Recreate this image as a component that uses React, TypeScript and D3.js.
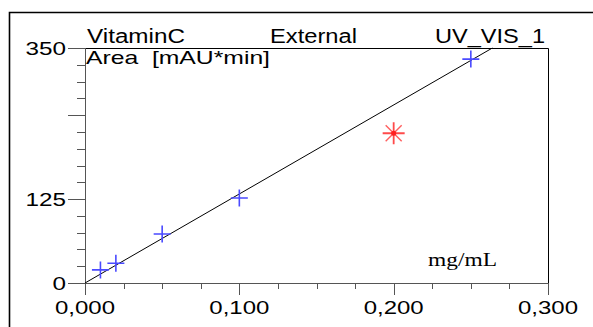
import React, { useEffect, useRef } from 'react';
import * as d3 from 'd3';

// calibration points (mg/mL vs area)
const conc = [0.01, 0.02, 0.05, 0.1, 0.25];
const area = [19.5, 29.5, 73, 126.5, 333.5];
// disabled / outlier point
const outlierConc = [0.2];
const outlierArea = [223];
// fitted line through origin
const slope = 1326;

const xTickLabels = ['0,000', '0,100', '0,200', '0,300'];
const xLabelValues = [0, 0.1, 0.2, 0.3];
const yLabelValues = [0, 125, 350];
const yLabelText = ['0', '125', '350'];
const yMajor = [0, 125, 250, 350];

const W = 593;
const H = 327;

export default function App() {
  const ref = useRef<SVGSVGElement>(null);

  useEffect(() => {
    const svg = d3.select(ref.current);
    svg.selectAll('*').remove();

    const left = 85, right = 548, top = 48, bottom = 283;
    const x = d3.scaleLinear().domain([0, 0.3]).range([left, right]);
    const y = d3.scaleLinear().domain([0, 350]).range([bottom, top]);

    svg.append('rect').attr('width', W).attr('height', H).attr('fill', '#fff');

    // outer frame
    svg.append('path')
      .attr('d', `M9.5,${H} V12.5 H${W}`)
      .attr('fill', 'none').attr('stroke', '#000').attr('stroke-width', 1.6);

    // plot frame top / right
    svg.append('path')
      .attr('d', `M${left},${top + 0.5} H${right + 0.5} V${bottom}`)
      .attr('fill', 'none').attr('stroke', '#000').attr('stroke-width', 1);

    const axisCol = '#555';
    const g = svg.append('g');

    // y axis
    g.append('line').attr('x1', left + 0.5).attr('x2', left + 0.5)
      .attr('y1', top).attr('y2', bottom + 12).attr('stroke', axisCol);
    const yMinor = d3.range(0, 351, 25);
    g.selectAll('.ytick').data(yMinor).enter().append('line')
      .attr('x1', d => (yMajor.includes(d) ? left - 17 : left - 8))
      .attr('x2', left)
      .attr('y1', d => Math.round(y(d)) + 0.5)
      .attr('y2', d => Math.round(y(d)) + 0.5)
      .attr('stroke', axisCol);

    // x axis
    g.append('line').attr('x1', left - 17).attr('x2', right + 0.5)
      .attr('y1', bottom + 0.5).attr('y2', bottom + 0.5).attr('stroke', axisCol);
    const xMinor = d3.range(0, 0.3001, 0.025);
    g.selectAll('.xtick').data(xMinor).enter().append('line')
      .attr('x1', d => Math.round(x(d)) + 0.5)
      .attr('x2', d => Math.round(x(d)) + 0.5)
      .attr('y1', bottom)
      .attr('y2', d => (Math.abs((d * 10) - Math.round(d * 10)) < 1e-6 ? bottom + 12 : bottom + 6))
      .attr('stroke', axisCol);

    const sans = "'Liberation Sans', Arial, sans-serif";

    // y labels
    g.selectAll('.ylab').data(yLabelValues).enter().append('text')
      .attr('x', 66).attr('y', d => y(d) + 7)
      .attr('text-anchor', 'end')
      .attr('font-family', sans).attr('font-size', 19)
      .attr('textLength', (d, i) => yLabelText[i].length * 13.5)
      .attr('lengthAdjust', 'spacingAndGlyphs')
      .attr('fill', '#000')
      .text((d, i) => yLabelText[i]);

    // x labels
    g.selectAll('.xlab').data(xLabelValues).enter().append('text')
      .attr('x', d => x(d) - 30).attr('y', 314)
      .attr('font-family', sans).attr('font-size', 19)
      .attr('textLength', 60)
      .attr('lengthAdjust', 'spacingAndGlyphs')
      .attr('fill', '#000')
      .text((d, i) => xTickLabels[i]);

    // header texts
    const header = [
      { t: 'VitaminC', x: 87, y: 43, w: 98, s: 19.5 },
      { t: 'External', x: 270, y: 43, w: 87, s: 19.5 },
      { t: 'UV_VIS_1', x: 435, y: 43, w: 110, s: 19.5 },
      { t: 'Area  [mAU*min]', x: 86, y: 64, w: 184, s: 18.5 },
    ];
    header.forEach(h => {
      svg.append('text').attr('x', h.x).attr('y', h.y)
        .attr('font-family', sans).attr('font-size', h.s)
        .attr('textLength', h.w).attr('lengthAdjust', 'spacingAndGlyphs')
        .style('white-space', 'pre')
        .attr('fill', '#000').text(h.t);
    });

    svg.append('text').attr('x', 428).attr('y', 266)
      .attr('font-family', "'Liberation Serif', 'Times New Roman', serif")
      .attr('font-size', 18.5).attr('textLength', 69)
      .attr('lengthAdjust', 'spacingAndGlyphs')
      .attr('fill', '#000').text('mg/mL');

    // calibration line
    const xEnd = 350 / slope;
    svg.append('line')
      .attr('x1', x(0)).attr('y1', y(0))
      .attr('x2', x(xEnd)).attr('y2', y(slope * xEnd))
      .attr('stroke', '#000').attr('stroke-width', 1);

    // blue crosses
    const pts = conc.map((c, i) => [c, area[i]]);
    const cs = 8.5;
    svg.selectAll('.pt').data(pts).enter().append('path')
      .attr('d', d => {
        const px = x(d[0]), py = y(d[1]);
        return `M${px - cs},${py} H${px + cs} M${px},${py - cs} V${py + cs}`;
      })
      .attr('stroke', '#4a4aff').attr('stroke-width', 1.6).attr('fill', 'none');

    // red star
    const out = outlierConc.map((c, i) => [c, outlierArea[i]]);
    const rs = 11, rd = 8;
    const star = svg.selectAll('.out').data(out).enter().append('g')
      .attr('transform', d => `translate(${x(d[0])},${y(d[1])})`);
    star.append('path')
      .attr('d', `M${-rs},0 H${rs} M0,${-rs} V${rs}`)
      .attr('stroke', '#ff2a2a').attr('stroke-width', 1.8).attr('stroke-opacity', 0.85);
    star.append('path')
      .attr('d', `M${-rd},${-rd} L${rd},${rd} M${-rd},${rd} L${rd},${-rd}`)
      .attr('stroke', '#ff2a2a').attr('stroke-width', 1.4).attr('stroke-opacity', 0.75);
    star.append('circle').attr('r', 2.5).attr('fill', '#ff2020');
  }, []);

  return (
    <div style={{ position: 'absolute', left: 0, top: 0 }}>
      <svg ref={ref} width={W} height={H} style={{ display: 'block' }} />
    </div>
  );
}
